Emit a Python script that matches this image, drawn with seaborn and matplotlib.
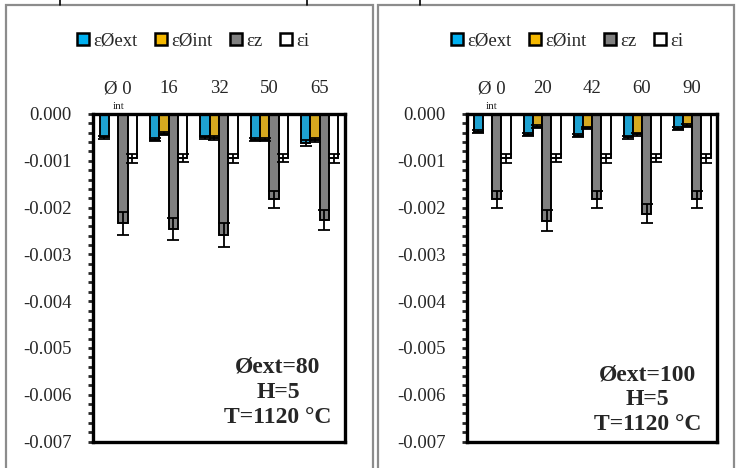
import numpy as np
import pandas as pd
import matplotlib
matplotlib.use("Agg")
import matplotlib.pyplot as plt
from matplotlib.patches import Patch
from matplotlib.ticker import AutoMinorLocator, FuncFormatter
import seaborn as sns

# series names and colours
series = ["εØext", "εØint", "εz", "εi"]
colors = ["#00B0F0", "#F5B800", "#808080", "#FFFFFF"]

# Øext = 80 panel
labels_80 = ["Ø 0", "16", "32", "50", "65"]
phi_ext_80 = [-0.00050, -0.00055, -0.00050, -0.00055, -0.00062]
phi_int_80 = [0.0, -0.00042, -0.00052, -0.00055, -0.00056]
z_80 = [-0.00234, -0.00246, -0.00258, -0.00182, -0.00227]
i_80 = [-0.00095, -0.00094, -0.00095, -0.00094, -0.00095]
phi_ext_80_err = [0.00004, 0.00003, 0.00003, 0.00003, 0.00006]
phi_int_80_err = [0.0, 0.00003, 0.00004, 0.00003, 0.00004]
z_80_err = [0.00024, 0.00024, 0.00026, 0.00018, 0.00022]
i_80_err = [0.00009, 0.00009, 0.00009, 0.00009, 0.00009]

# Øext = 100 panel
labels_100 = ["Ø 0", "20", "42", "60", "90"]
phi_ext_100 = [-0.00038, -0.00044, -0.00046, -0.00050, -0.00031]
phi_int_100 = [0.0, -0.00027, -0.00030, -0.00043, -0.00025]
z_100 = [-0.00182, -0.00228, -0.00182, -0.00213, -0.00182]
i_100 = [-0.00095, -0.00094, -0.00095, -0.00094, -0.00095]
phi_ext_100_err = [0.00003, 0.00003, 0.00003, 0.00003, 0.00003]
phi_int_100_err = [0.0, 0.00003, 0.00003, 0.00003, 0.00003]
z_100_err = [0.00018, 0.00023, 0.00018, 0.00021, 0.00018]
i_100_err = [0.00009, 0.00009, 0.00009, 0.00009, 0.00009]

sns.set_style("white")
plt.rcParams['font.family'] = ['Liberation Serif', 'DejaVu Serif']

fig = plt.figure(figsize=(7.36, 4.68), dpi=100)

# panel frames
frame_kw = dict(transform=fig.transFigure, fill=False, edgecolor="#8c8c8c", linewidth=1.6)
fig.add_artist(plt.Rectangle((6 / 736, -0.05), 367 / 736, 1.05 - 5 / 468, **frame_kw))
fig.add_artist(plt.Rectangle((378 / 736, -0.05), 356 / 736, 1.05 - 5 / 468, **frame_kw))
for xp in [60, 307, 420]:
    fig.add_artist(plt.Line2D([xp / 736, xp / 736], [1 - 5 / 468, 1], transform=fig.transFigure,
                              color="black", linewidth=1.2))


def panel(rect, labels, vals, errs, note, note_xy):
    ax = fig.add_axes(rect)
    df = pd.DataFrame({
        "group": np.repeat([labels], 4, axis=0).ravel(),
        "series": np.repeat(series, len(labels)),
        "value": np.concatenate(vals),
    })
    sns.barplot(data=df, x="group", y="value", hue="series", hue_order=series,
                palette=dict(zip(series, colors)), width=0.74, errorbar=None,
                edgecolor="black", linewidth=1.4, legend=False, ax=ax)
    for cont, v, e in zip(ax.containers, vals, errs):
        xs = [b.get_x() + b.get_width() / 2 for b in cont]
        ax.errorbar(xs, v, yerr=e, fmt="none", ecolor="black", elinewidth=1.3,
                    capsize=4, capthick=1.3, zorder=5)

    ax.set_ylim(-0.007, 0)
    ax.set_xlim(-0.5, len(labels) - 0.5)
    ax.set_xlabel("")
    ax.set_ylabel("")
    ax.set_yticks(np.round(np.linspace(-0.007, 0, 8), 3))
    ax.yaxis.set_major_formatter(FuncFormatter(lambda v, p: f"{v:.3f}".replace("-0.000", "0.000")))
    ax.yaxis.set_minor_locator(AutoMinorLocator(5))
    ax.xaxis.tick_top()
    ax.tick_params(axis="x", length=0, pad=12, labelsize=13.5)
    ax.tick_params(axis="y", which="both", direction="out", left=True, length=3.5, width=2,
                   pad=12, labelsize=13.5)
    for s in ax.spines.values():
        s.set_visible(True)
        s.set_linewidth(2.4)
        s.set_color("black")
    ax.annotate("int", xy=(0, 1), xycoords=("data", "axes fraction"), xytext=(0, 5.5),
                textcoords="offset points", ha="center", va="center", fontsize=8)
    ax.text(note_xy[0], note_xy[1], note, transform=ax.transAxes, ha="center", va="center",
            multialignment="center", fontsize=17, fontweight="bold", linespacing=1.25)
    return ax


panel([93 / 736, 1 - 441.5 / 468, 252 / 736, 327.5 / 468], labels_80,
      [phi_ext_80, phi_int_80, z_80, i_80],
      [phi_ext_80_err, phi_int_80_err, z_80_err, i_80_err],
      "Øext=80\nH=5\nT=1120 °C", (0.734, 0.15))
panel([467 / 736, 1 - 441.5 / 468, 250 / 736, 327.5 / 468], labels_100,
      [phi_ext_100, phi_int_100, z_100, i_100],
      [phi_ext_100_err, phi_int_100_err, z_100_err, i_100_err],
      "Øext=100\nH=5\nT=1120 °C", (0.723, 0.127))

handles = [Patch(facecolor=c, edgecolor="black", linewidth=1.8) for c in colors]
for cx in [193, 567]:
    fig.legend(handles, series, loc="center", bbox_to_anchor=(cx / 736, 1 - 41 / 468),
               ncol=4, frameon=False, fontsize=13.5, handlelength=0.65, handleheight=0.65,
               handletextpad=0.25, columnspacing=0.9)

fig.savefig("out.png", dpi=100)
